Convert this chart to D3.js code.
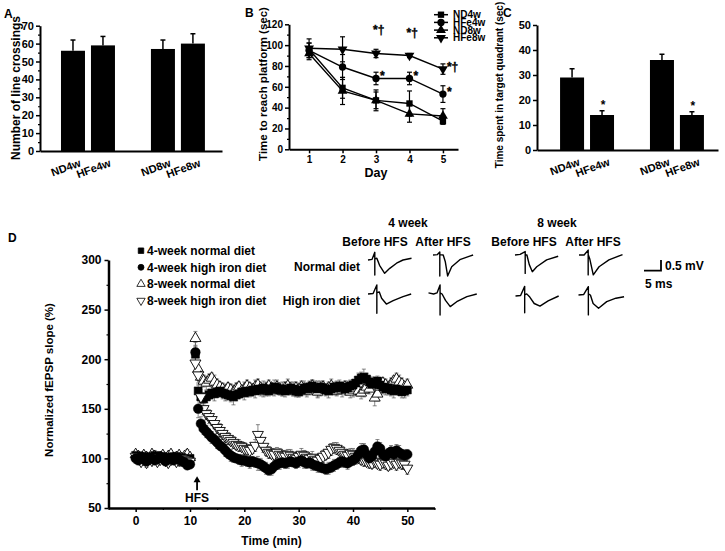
<!DOCTYPE html>
<html><head><meta charset="utf-8">
<script src="https://cdn.jsdelivr.net/npm/d3@7"></script>
<style>
html,body{margin:0;padding:0;background:#fff;}
svg{display:block;font-family:"Liberation Sans",Arial,sans-serif;font-weight:bold;}
</style></head><body>
<svg id="fig" width="725" height="551"></svg>
<script>
// ================= DATA =================
// Panel A: open field line crossings
const aCategories = ["ND4w","HFe4w","ND8w","HFe8w"];
const aMeans  = [56, 59, 57, 60];
const aErrors = [6, 5, 5, 5.5];
const aTicks  = [0,10,20,30,40,50,60,70];

// Panel B: escape latency
const bDays   = [1,2,3,4,5];
const bSeries = ["ND4w","HFe4w","ND8w","HFe8w"];
const bND4w   = [96, 59, 47, 44, 27];
const bHFe4w  = [95, 79, 68, 68, 53];
const bND8w   = [92, 56, 47, 34, 32];
const bHFe8w  = [97, 96, 92, 90, 77];
const bND4wErr  = [6, 10, 10, 12, 3];
const bHFe4wErr = [7, 12, 6, 6, 8];
const bND8wErr  = [6, 13, 8, 8, 7];
const bHFe8wErr = [9, 12, 4, 2, 5];
const bTicks  = [0,20,40,60,80,100,120];
const bAnnotations = [
  {series:"HFe8w", day:3, text:"*†", pos:"above"},
  {series:"HFe8w", day:4, text:"*†", pos:"above"},
  {series:"HFe8w", day:5, text:"*†", pos:"right"},
  {series:"HFe4w", day:3, text:"*",  pos:"right"},
  {series:"HFe4w", day:4, text:"*",  pos:"right"},
  {series:"HFe4w", day:5, text:"*",  pos:"right"}
];

// Panel C: time in target quadrant
const cCategories = ["ND4w","HFe4w","ND8w","HFe8w"];
const cMeans  = [29, 14, 36, 14];
const cErrors = [3.5, 1.7, 2.3, 1.3];
const cStars  = ["", "*", "", "*"];
const cTicks  = [0,10,20,30,40,50];

// Panel D: LTP time course (normalized fEPSP slope, %)
const dLegend = ["4-week normal diet","4-week high iron diet","8-week normal diet","8-week high iron diet"];
const dBaseTimes = d3.range(0, 10.01, 0.5);   // sampling times before HFS
const dPostTimes = d3.range(11, 50.01, 0.5);  // sampling times after HFS
const nd4wBase = [103,101,99,102,100,98,101,103,100,99,102,100,98,101,99,102,100,101,98,99,100];
const nd4wPost = [205,168,162,160,162,164,166,165,167,168, 166,165,164,163,162,164,165,167,166,168,
  167,169,168,170,169,171,170,168,170,172, 171,169,170,168,169,171,170,168,167,169,
  171,170,172,173,171,170,172,171,169,168, 170,172,171,173,172,170,171,173,174,176,
  179,181,182,180,177,175,176,178,174,172, 170,171,169,168,170,169,167,168,169];
const hfe4wBase = [100,98,102,99,97,101,100,98,99,102,100,97,99,101,98,100,99,97,96,93,94];
const hfe4wPost = [207,150,135,130,127,124,121,119,116,113, 111,108,105,103,101,100,99,98,98,97,
  96,97,96,95,94,92,90,88,89,92, 94,95,96,95,96,97,96,95,97,98,
  96,95,96,94,93,92,91,90,89,90, 91,93,94,96,97,96,95,97,98,100,
  104,108,109,104,100,102,107,112,110,104, 102,105,107,104,108,106,104,103,104];
const nd8wBase = [104,102,100,103,101,99,104,102,100,101,103,99,102,104,100,101,103,100,102,104,101];
const nd8wPost = [221,190,182,178,176,179,181,177,174,172, 170,168,171,169,167,170,172,168,170,173,
  171,169,172,174,171,168,170,173,171,169, 172,170,168,171,173,170,168,171,169,172,
  170,168,171,173,170,167,170,172,169,171, 173,170,168,171,169,172,170,167,169,171,
  168,166,169,172,170,174,161,165,172,176, 174,171,175,178,180,177,175,172,174];
const hfe8wBase = [102,100,97,99,96,100,98,101,97,99,100,98,96,99,101,97,98,100,99,98,97];
const hfe8wPost = [196,184,162,150,145,142,139,135,131,128, 125,122,120,118,116,114,113,112,110,109,
  108,110,113,124,118,112,108,106,105,104, 106,104,103,102,104,103,101,100,102,104,
  103,101,100,101,99,98,100,102,104,106, 109,111,110,108,106,104,103,105,104,102,
  101,99,98,97,96,95,97,95,94,96, 95,93,95,96,94,96,95,94,90];
const nd4wBaseErr  = [4,5,3,4,5,4,3,5,4,4,5,3,4,4,5,3,4,4,5,4,3];
const hfe4wBaseErr = [5,4,4,5,3,4,5,4,4,3,5,4,4,5,3,4,4,5,4,3,4];
const nd8wBaseErr  = [4,3,5,4,4,5,3,4,5,4,3,5,4,4,3,5,4,4,3,5,4];
const hfe8wBaseErr = [5,4,4,3,5,4,4,5,3,4,4,5,4,3,5,4,4,3,5,4,4];
const nd4wPostErr  = [8,6,5,5,6,5,6,7,5,6, 6,7,5,6,8,6,5,6,7,6, 5,6,7,5,6,7,6,5,6,7, 6,5,7,6,5,6,7,6,5,6,
  7,6,5,6,7,8,6,5,6,7, 6,5,7,6,5,6,7,6,5,6, 7,6,8,6,5,7,6,5,6,7, 6,5,6,7,6,5,6,7,6];
const hfe4wPostErr = [10,9,7,6,6,5,6,5,6,5, 5,6,5,6,5,4,5,6,5,5, 6,5,5,7,6,5,6,5,6,5, 5,6,5,5,6,5,4,5,6,5,
  6,5,5,6,5,6,5,4,5,6, 5,6,5,5,6,5,6,5,5,6, 6,7,6,5,6,5,6,7,6,5, 6,5,6,5,6,7,5,6,5];
const nd8wPostErr  = [7,8,7,6,7,6,5,7,6,5, 6,7,5,6,7,6,5,6,7,6, 5,6,7,6,5,6,7,6,5,6, 7,6,5,6,7,6,5,6,7,6,
  5,6,7,6,5,6,7,6,5,6, 7,6,5,6,7,6,5,6,7,6, 5,6,7,6,5,6,8,7,6,5, 6,7,6,5,6,7,6,5,6];
const hfe8wPostErr = [9,8,7,6,6,7,6,5,6,7, 6,5,6,5,6,5,6,5,6,5, 6,5,6,10,7,6,5,6,5,6, 5,6,5,6,5,6,5,6,5,6,
  5,6,5,6,5,6,5,6,5,6, 6,5,6,5,6,5,6,5,6,5, 6,5,6,5,6,5,6,5,6,5, 6,5,6,5,6,5,6,5,6];
const dXTicks = [0,10,20,30,40,50];
const dYTicks = [50,100,150,200,250,300];
const hfsTime = 11.3;

// Example fEPSP traces (time in ms, voltage in mV, relative to trace start)
const traceRows = ["Normal diet","High iron diet"];
const traceCols = ["Before HFS","After HFS","Before HFS","After HFS"];
const traceWeeks = ["4 week","8 week"];
const trNd4Before_t = [0,1.2,2.0,2.0,2.0,2.6,3.4,4.9,6.4,8.4,10.3,12.8];
const trNd4Before_v = [0,0.03,0.36,-0.70,0.05,0.08,-0.25,-0.62,-0.39,-0.15,0.0,0.08];
const trNd4After_t  = [0,1.3,2.0,2.0,2.0,3.0,3.6,4.3,5.5,7.9,10.8,11.8];
const trNd4After_v  = [0,0.02,0.14,-0.98,0.02,0.0,-0.3,-0.98,-0.55,-0.22,-0.05,0.0];
const trNd8Before_t = [0,1.5,3.0,3.0,3.0,3.5,4.2,5.1,6.4,9.3,12.7];
const trNd8Before_v = [0,0.03,0.16,-0.86,0.02,0.0,-0.45,-0.78,-0.55,-0.23,-0.06];
const trNd8After_t  = [0,1.5,2.7,2.7,2.7,3.2,4.2,5.9,8.8,12.8];
const trNd8After_v  = [0,0.0,0.23,-0.93,0.02,-0.2,-0.93,-0.55,-0.23,0.02];
const trHf4Before_t = [0,1.5,2.6,2.6,2.6,3.3,4.0,5.4,7.4,10.3,12.7];
const trHf4Before_v = [0,0.02,0.42,-0.90,0.05,0.1,-0.2,-0.47,-0.31,-0.12,0.0];
const trHf4After_t  = [0,1.5,2.5,3.4,3.4,3.4,4.0,5.0,6.4,8.3,11.3,14.2];
const trHf4After_v  = [0.05,0.0,0.05,0.42,-0.98,0.05,0.0,-0.3,-0.59,-0.36,-0.12,0.0];
const trHf8Before_t = [0,1.5,2.7,2.7,2.7,3.3,4.2,5.5,7.2,9.6,12.7];
const trHf8Before_v = [0,0.02,0.45,-0.78,0.05,0.1,-0.05,-0.35,-0.47,-0.23,0.0];
const trHf8After_t  = [0,1.5,2.9,2.9,2.9,3.5,4.3,5.9,8.3,11.0,13.4];
const trHf8After_v  = [0,0.02,0.39,-0.93,0.05,0.0,-0.4,-0.62,-0.31,-0.15,-0.08];
const scaleBarMs = 5, scaleBarMv = 0.5;

// ================= LAYOUT / DRAWING =================
const svg = d3.select("#fig");
svg.append("rect").attr("width",725).attr("height",551).attr("fill","#fff");

function styleAxis(g, domainW){
  g.select(".domain").attr("stroke","#000").attr("stroke-width",domainW||2);
  g.selectAll(".tick line").attr("stroke","#000").attr("stroke-width",1.5);
  g.selectAll(".tick text").attr("fill","#000").style("font-family","'Liberation Sans',Arial,sans-serif").style("font-weight","bold");
}
function minorAxis(g){
  g.select(".domain").remove();
  g.selectAll(".tick line").attr("stroke","#000").attr("stroke-width",1.2);
  g.selectAll(".tick text").remove();
}
function label(x,y,txt,size,anchor,rot){
  const t = svg.append("text").attr("font-size",size).attr("text-anchor",anchor||"start")
    .attr("fill","#000").text(txt);
  if(rot) t.attr("transform",`translate(${x},${y}) rotate(${rot})`);
  else t.attr("x",x).attr("y",y);
  return t;
}

// ---------- Panel A ----------
(function(){
  const slots = [1,2,4,5];
  const x = d3.scaleLinear().domain([-0.1,5.97]).range([40,222]);
  const y = d3.scaleLinear().domain([0,70]).range([151,25.7]);
  const bw = 24;
  const g = svg.append("g");
  aMeans.forEach((m,i)=>{
    const cx = x(slots[i]);
    g.append("line").attr("x1",cx).attr("x2",cx).attr("y1",y(m)).attr("y2",y(m+aErrors[i])).attr("stroke","#000").attr("stroke-width",1.5);
    g.append("line").attr("x1",cx-2.5).attr("x2",cx+2.5).attr("y1",y(m+aErrors[i])).attr("y2",y(m+aErrors[i])).attr("stroke","#000").attr("stroke-width",1.5);
  });
  g.selectAll("rect.bar").data(aMeans).join("rect")
    .attr("x",(d,i)=>x(slots[i])-bw/2).attr("width",bw)
    .attr("y",d=>y(d)).attr("height",d=>y(0)-y(d)).attr("fill","#000");
  const ya = svg.append("g").attr("transform",`translate(${x.range()[0]},0)`)
    .call(d3.axisLeft(y).tickValues(aTicks).tickSize(4).tickSizeOuter(0).tickPadding(2));
  ya.attr("font-size",11); styleAxis(ya,2);
  svg.append("g").attr("transform",`translate(${x.range()[0]},0)`)
    .call(d3.axisLeft(y).tickValues(d3.range(5,70,10)).tickSize(2)).call(minorAxis);
  const xa = svg.append("g").attr("transform",`translate(0,${y(0)})`)
    .call(d3.axisBottom(x).tickValues(slots).tickSize(0).tickSizeOuter(0).tickFormat((d,i)=>aCategories[i]));
  xa.attr("font-size",11); styleAxis(xa,2);
  xa.selectAll(".tick text").attr("x",0).attr("y",0).attr("dy",null).attr("text-anchor","end")
    .attr("transform","translate(8,15) rotate(-20)");
  label(20,88,"Number of line crossings",12,"middle",-90);
  label(4,18,"A",12);
})();

// ---------- Panel B ----------
(function(){
  const x = d3.scaleLinear().domain([0.4,5.45]).range([289,458]);
  const y = d3.scaleLinear().domain([0,120]).range([149.3,24.3]);
  const vals = {ND4w:bND4w, HFe4w:bHFe4w, ND8w:bND8w, HFe8w:bHFe8w};
  const errs = {ND4w:bND4wErr, HFe4w:bHFe4wErr, ND8w:bND8wErr, HFe8w:bHFe8wErr};
  const sym = {ND4w:[d3.symbolSquare,0,40], HFe4w:[d3.symbolCircle,0,42], ND8w:[d3.symbolTriangle,0,42], HFe8w:[d3.symbolTriangle,180,42]};
  const g = svg.append("g");
  bSeries.forEach(s=>{
    bDays.forEach((d,i)=>{
      const v = vals[s][i], e = errs[s][i], cx = x(d);
      g.append("line").attr("x1",cx).attr("x2",cx).attr("y1",y(v-e)).attr("y2",y(v+e)).attr("stroke","#000").attr("stroke-width",1.2);
      [v-e,v+e].forEach(k=>g.append("line").attr("x1",cx-2.5).attr("x2",cx+2.5).attr("y1",y(k)).attr("y2",y(k)).attr("stroke","#000").attr("stroke-width",1.2));
    });
  });
  const line = d3.line().x((d,i)=>x(bDays[i])).y(d=>y(d));
  bSeries.forEach(s=>{
    g.append("path").attr("d",line(vals[s])).attr("fill","none").attr("stroke","#000").attr("stroke-width",1.4);
  });
  bSeries.forEach(s=>{
    const [type,rot,size] = sym[s];
    g.selectAll(null).data(vals[s]).join("path")
      .attr("d",d3.symbol().type(type).size(size))
      .attr("transform",(d,i)=>`translate(${x(bDays[i])},${y(d)}) rotate(${rot})`)
      .attr("fill","#000");
  });
  bAnnotations.forEach(a=>{
    const i = bDays.indexOf(a.day), v = vals[a.series][i];
    const px = (a.pos==="above") ? x(a.day)-3 : x(a.day)+4;
    const py = (a.pos==="above") ? y(v)-19 : y(v)+2;
    svg.append("text").attr("font-size",12).attr("fill","#000")
      .attr("stroke","#000").attr("stroke-width",0.35)
      .attr("x",px).attr("y",py).text(a.text);
  });
  const ya = svg.append("g").attr("transform",`translate(${x.range()[0]},0)`)
    .call(d3.axisLeft(y).tickValues(bTicks).tickSize(4).tickSizeOuter(0).tickPadding(2));
  ya.attr("font-size",10); styleAxis(ya,2);
  svg.append("g").attr("transform",`translate(${x.range()[0]},0)`)
    .call(d3.axisLeft(y).tickValues(d3.range(10,120,20)).tickSize(2)).call(minorAxis);
  const xa = svg.append("g").attr("transform",`translate(0,${y(0)})`)
    .call(d3.axisBottom(x).tickValues(bDays).tickSize(4).tickSizeOuter(0).tickPadding(3).tickFormat(d3.format("d")));
  xa.attr("font-size",10); styleAxis(xa,2);
  label(x(3),177,"Day",12.5,"middle");
  label(267,84,"Time to reach platform (sec)",11.5,"middle",-90);
  label(245,17,"B",12);
  const ly = [14.7,22.4,30.1,37.8];
  bSeries.forEach((s,i)=>{
    const [type,rot,size] = sym[s];
    svg.append("line").attr("x1",434).attr("x2",448).attr("y1",ly[i]).attr("y2",ly[i]).attr("stroke","#000").attr("stroke-width",1.5);
    svg.append("path").attr("d",d3.symbol().type(type).size(size)()).attr("transform",`translate(441,${ly[i]}) rotate(${rot})`).attr("fill","#000");
    label(453, ly[i]+3.5, s, 10, "start");
  });
})();

// ---------- Panel C ----------
(function(){
  const slots = [1,2,4,5];
  const x = d3.scaleLinear().domain([-0.17,5.87]).range([537,718]);
  const y = d3.scaleLinear().domain([0,50]).range([150,25]);
  const bw = 24;
  const g = svg.append("g");
  cMeans.forEach((m,i)=>{
    const cx = x(slots[i]);
    g.append("line").attr("x1",cx).attr("x2",cx).attr("y1",y(m)).attr("y2",y(m+cErrors[i])).attr("stroke","#000").attr("stroke-width",1.5);
    g.append("line").attr("x1",cx-2.5).attr("x2",cx+2.5).attr("y1",y(m+cErrors[i])).attr("y2",y(m+cErrors[i])).attr("stroke","#000").attr("stroke-width",1.5);
    if(cStars[i]) label(cx+1, y(m+cErrors[i])-2, cStars[i], 12, "middle");
  });
  g.selectAll("rect.bar").data(cMeans).join("rect")
    .attr("x",(d,i)=>x(slots[i])-bw/2).attr("width",bw)
    .attr("y",d=>y(d)).attr("height",d=>y(0)-y(d)).attr("fill","#000");
  const ya = svg.append("g").attr("transform",`translate(${x.range()[0]},0)`)
    .call(d3.axisLeft(y).tickValues(cTicks).tickSize(4).tickSizeOuter(0).tickPadding(2));
  ya.attr("font-size",11); styleAxis(ya,2);
  const xa = svg.append("g").attr("transform",`translate(0,${y(0)})`)
    .call(d3.axisBottom(x).tickValues(slots).tickSize(0).tickSizeOuter(0).tickFormat((d,i)=>cCategories[i]));
  xa.attr("font-size",11); styleAxis(xa,2);
  xa.selectAll(".tick text").attr("x",0).attr("y",0).attr("dy",null).attr("text-anchor","end")
    .attr("transform","translate(8,15) rotate(-20)");
  label(503,85,"Time spent in target quadrant (sec)",10,"middle",-90);
  label(503,17,"C",12);
})();

// ---------- Panel D ----------
(function(){
  const x = d3.scaleLinear().domain([-5,55]).range([108.5,434.5]);
  const y = d3.scaleLinear().domain([50,300]).range([508,260]);
  const times = dBaseTimes.concat(dPostTimes);
  const series = [
    {vals:nd4wBase.concat(nd4wPost),  errs:nd4wBaseErr.concat(nd4wPostErr),  type:d3.symbolSquare,   rot:0,   size:64, fill:"#000"},
    {vals:hfe4wBase.concat(hfe4wPost),errs:hfe4wBaseErr.concat(hfe4wPostErr),type:d3.symbolCircle,   rot:0,   size:72, fill:"#000"},
    {vals:nd8wBase.concat(nd8wPost),  errs:nd8wBaseErr.concat(nd8wPostErr),  type:d3.symbolTriangle, rot:0,   size:52, fill:"#fff"},
    {vals:hfe8wBase.concat(hfe8wPost),errs:hfe8wBaseErr.concat(hfe8wPostErr),type:d3.symbolTriangle, rot:180, size:52, fill:"#fff"}
  ];
  const drawOrder = [2,0,3,1];
  const g = svg.append("g");
  series.forEach(s=>{
    const n = Math.min(times.length, s.vals.length, s.errs.length);
    for(let i=0;i<n;i++){
      const cx = x(times[i]), v = s.vals[i], e = s.errs[i];
      g.append("line").attr("x1",cx).attr("x2",cx).attr("y1",y(v-e)).attr("y2",y(v+e)).attr("stroke","#555").attr("stroke-width",0.7);
      [v-e,v+e].forEach(k=>g.append("line").attr("x1",cx-2).attr("x2",cx+2).attr("y1",y(k)).attr("y2",y(k)).attr("stroke","#555").attr("stroke-width",0.7));
    }
  });
  drawOrder.forEach(k=>{
    const s = series[k];
    const n = Math.min(times.length, s.vals.length);
    g.selectAll(null).data(s.vals.slice(0,n)).join("path")
      .attr("d",d3.symbol().type(s.type).size(s.size))
      .attr("transform",(d,i)=>`translate(${x(times[i])},${y(d)}) rotate(${s.rot})`)
      .attr("fill",s.fill).attr("stroke","#000").attr("stroke-width",s.fill==="#fff"?0.9:0.5);
  });
  const ya = svg.append("g").attr("transform",`translate(${x.range()[0]},0)`)
    .call(d3.axisLeft(y).tickValues(dYTicks).tickSize(4).tickSizeOuter(0).tickPadding(3));
  ya.attr("font-size",12); styleAxis(ya,2.5);
  svg.append("g").attr("transform",`translate(${x.range()[0]},0)`)
    .call(d3.axisLeft(y).tickValues(d3.range(75,300,50)).tickSize(2)).call(minorAxis);
  const xa = svg.append("g").attr("transform",`translate(0,${y.range()[0]})`)
    .call(d3.axisBottom(x).tickValues(dXTicks).tickSize(4).tickSizeOuter(0).tickPadding(4));
  xa.attr("font-size",12); styleAxis(xa,2.5);
  svg.append("g").attr("transform",`translate(0,${y.range()[0]})`)
    .call(d3.axisBottom(x).tickValues(d3.range(-5,56,10)).tickSize(2)).call(minorAxis);
  label(x(25),545,"Time (min)",12,"middle");
  label(53,380,"Normalized fEPSP slope (%)",11.5,"middle",-90);
  label(8,242,"D",12);
  const ax = x(hfsTime);
  svg.append("line").attr("x1",ax).attr("x2",ax).attr("y1",y(68)).attr("y2",y(78)).attr("stroke","#000").attr("stroke-width",1.8);
  svg.append("path").attr("d",`M${ax-3.5},${y(76)} L${ax},${y(82)} L${ax+3.5},${y(76)} Z`).attr("fill","#000");
  label(ax,502,"HFS",12,"middle");
  const ly = [250.7,267.3,284,300.7];
  series.forEach((s,i)=>{
    const sz = [30,28,30,30][i];
    svg.append("path").attr("d",d3.symbol().type(s.type).size(sz)()).attr("transform",`translate(141,${ly[i]}) rotate(${s.rot})`)
      .attr("fill",s.fill).attr("stroke","#000").attr("stroke-width",0.8);
    label(147, ly[i]+4.3, dLegend[i], 12, "start");
  });
})();

// ---------- Example traces ----------
(function(){
  const tx = d3.scaleLinear().domain([0,1]).range([0,3.4]);
  const ty = d3.scaleLinear().domain([0,1]).range([0,-21.4]);
  const traces = [
    [trNd4Before_t,trNd4Before_v,368,260],[trNd4After_t,trNd4After_v,433,255],
    [trNd8Before_t,trNd8Before_v,515,255],[trNd8After_t,trNd8After_v,579,255],
    [trHf4Before_t,trHf4Before_v,368,294],[trHf4After_t,trHf4After_v,428.5,294],
    [trHf8Before_t,trHf8Before_v,515.5,296],[trHf8After_t,trHf8After_v,578.5,295]
  ];
  traces.forEach(([t,v,ox,oy])=>{
    const ln = d3.line().x((d,i)=>ox+tx(t[i])).y(d=>oy+ty(d));
    svg.append("path").attr("d",ln(v)).attr("fill","none").attr("stroke","#000").attr("stroke-width",1.4).attr("stroke-linejoin","round");
  });
  label(408,227,traceWeeks[0],12,"middle");
  label(557,227,traceWeeks[1],12,"middle");
  [375,443,524,593].forEach((cx,i)=>label(cx,246,traceCols[i],12,"middle"));
  label(360,271,traceRows[0],12,"end");
  label(360,305,traceRows[1],12,"end");
  const sx = 661, sy = 270.7;
  svg.append("path").attr("d",`M${sx-tx(scaleBarMs)},${sy} L${sx},${sy} L${sx},${sy+ty(scaleBarMv)}`)
    .attr("fill","none").attr("stroke","#000").attr("stroke-width",1.8);
  label(665,270,scaleBarMv+" mV",12,"start");
  label(645,288,scaleBarMs+" ms",12,"start");
})();
</script>
</body></html>
